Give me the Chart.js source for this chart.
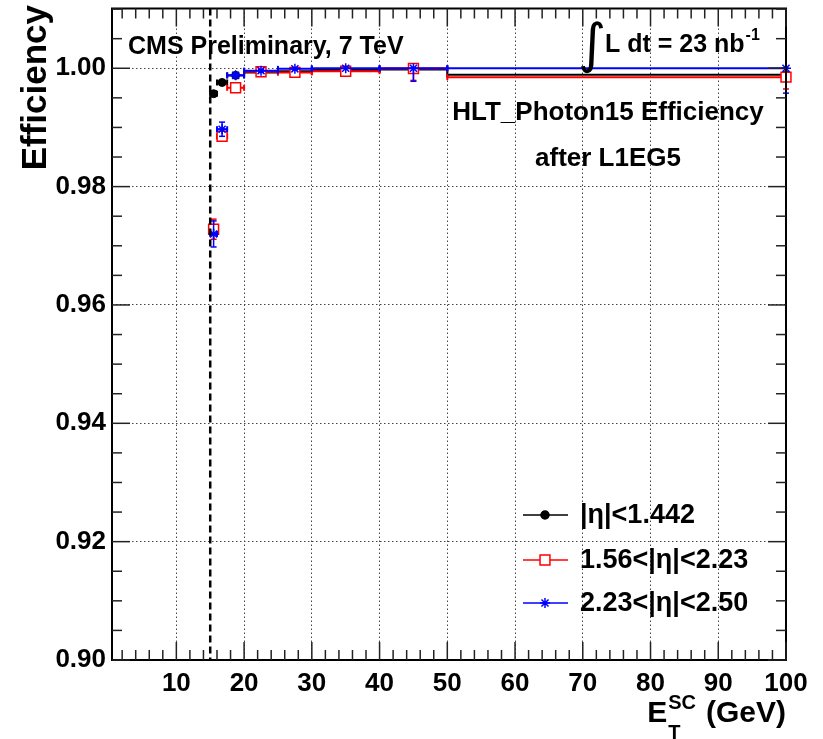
<!DOCTYPE html>
<html>
<head>
<meta charset="utf-8">
<script src="https://cdn.jsdelivr.net/npm/chart.js@4.4.0/dist/chart.umd.min.js"></script>
<style>
  html, body { margin: 0; padding: 0; background: #fff; }
  #wrap { width: 823px; height: 739px; }
</style>
</head>
<body>
<div id="wrap"><canvas id="c" width="823" height="739"></canvas></div>
<script>
// bins in E_T^SC (GeV)
var binCenter = [15.5, 16.75, 18.75, 22.5, 27.5, 35, 45, 100];
var binLow = [15, 16, 17.5, 20, 25, 30, 40, 50];
var binHigh = [16, 17.5, 20, 25, 30, 40, 50, 150];

// |eta| < 1.442
var effBarrel = [0.9957, 0.9976, 0.9988, 0.9993, 0.9995, 0.9997, 0.9998, 0.9989];
var errLoBarrel = [0.0003, 0.0003, 0.0002, 0.0002, 0.0002, 0.0001, 0.0001, 0.0003];
var errHiBarrel = [0.0003, 0.0003, 0.0002, 0.0002, 0.0002, 0.0001, 0.0001, 0.0003];

// 1.56 < |eta| < 2.23
var effEndcap1 = [0.9728, 0.9885, 0.9967, 0.9994, 0.9993, 0.9995, 0.99995, 0.9985];
var errLoEndcap1 = [0.0017, 0.0008, 0.0003, 0.0002, 0.0003, 0.0002, 0.0020, 0.0020];
var errHiEndcap1 = [0.0017, 0.0008, 0.0003, 0.0002, 0.0002, 0.00005, 0.00005, 0.0008];

// 2.23 < |eta| < 2.50
var effEndcap2 = [0.9720, 0.9897, 0.9988, 0.9996, 0.9999, 1.0000, 1.0000, 1.0000];
var errLoEndcap2 = [0.0022, 0.0012, 0.0004, 0.0003, 0.0002, 0.0001, 0.0022, 0.0042];
var errHiEndcap2 = [0.0022, 0.0012, 0.0004, 0.0002, 0.0001, 0, 0, 0];

var seriesLabels = ['|\u03b7|<1.442', '1.56<|\u03b7|<2.23', '2.23<|\u03b7|<2.50'];
var xTicks = [10, 20, 30, 40, 50, 60, 70, 80, 90, 100];
var yTicks = [0.90, 0.92, 0.94, 0.96, 0.98, 1.00];
var thresholdX = 15;

var FONT = "'Liberation Sans', Arial, Helvetica, sans-serif";

function buildPoints(eff, errLo, errHi) {
  var pts = [];
  for (var i = 0; i < binCenter.length; i++) {
    pts.push({x: binCenter[i], y: eff[i], xMin: binLow[i], xMax: binHigh[i], errLow: errLo[i], errHigh: errHi[i]});
  }
  return pts;
}

function line(ctx, x1, y1, x2, y2) {
  ctx.beginPath();
  ctx.moveTo(x1, y1);
  ctx.lineTo(x2, y2);
  ctx.stroke();
}

// error bars drawn just before each dataset's markers
var errorBarPlugin = {
  id: 'errorBars',
  beforeDatasetDraw: function (chart, args) {
    var ds = chart.data.datasets[args.index];
    var xs = chart.scales.x, ys = chart.scales.y;
    var area = chart.chartArea;
    var ctx = chart.ctx;
    var cap = 3;
    ctx.save();
    ctx.strokeStyle = ds.borderColor;
    ctx.lineWidth = 2;
    for (var i = 0; i < ds.data.length; i++) {
      var p = ds.data[i];
      var px = xs.getPixelForValue(p.x);
      var py = ys.getPixelForValue(p.y);
      var x1 = xs.getPixelForValue(p.xMin);
      var x2raw = xs.getPixelForValue(p.xMax);
      var x2 = Math.min(x2raw, area.right);
      line(ctx, x1, py, x2, py);
      line(ctx, x1, py - cap, x1, py + cap);
      if (x2raw <= area.right) line(ctx, x2, py - cap, x2, py + cap);
      var yLo = ys.getPixelForValue(p.y - p.errLow);
      var yHi = ys.getPixelForValue(p.y + p.errHigh);
      if (yLo - yHi > 1) {
        ctx.lineWidth = 1.5;
        line(ctx, px, yHi, px, yLo);
        line(ctx, px - cap, yLo, px + cap, yLo);
        line(ctx, px - cap, yHi, px + cap, yHi);
        ctx.lineWidth = 2;
      }
    }
    ctx.restore();
  }
};

// frame, inner ticks, threshold line, texts and legend
var decorPlugin = {
  id: 'decor',
  afterDraw: function (chart) {
    var ctx = chart.ctx;
    var a = chart.chartArea;
    var xs = chart.scales.x, ys = chart.scales.y;
    var v, p, len;
    ctx.save();

    // threshold line
    var tx = xs.getPixelForValue(thresholdX);
    ctx.strokeStyle = '#000';
    ctx.lineWidth = 2.5;
    ctx.setLineDash([7, 4]);
    line(ctx, tx, a.top, tx, a.bottom);
    ctx.setLineDash([]);

    // frame
    ctx.lineWidth = 2;
    ctx.strokeRect(a.left, a.top, a.right - a.left, a.bottom - a.top);

    // x ticks (bottom and top)
    ctx.lineWidth = 1.5;
    ctx.strokeStyle = '#222';
    for (v = 2; v <= 100; v += 2) {
      p = xs.getPixelForValue(v);
      len = (v % 10 === 0) ? 18 : 10;
      line(ctx, p, a.bottom, p, a.bottom - len);
      line(ctx, p, a.top, p, a.top + len);
    }
    // y ticks (left and right)
    for (var k = 0; k <= 22; k++) {
      v = 0.90 + k * 0.005;
      if (v > 1.0101) break;
      p = ys.getPixelForValue(v);
      len = (k % 4 === 0) ? 18 : 10;
      line(ctx, a.left, p, a.left + len, p);
      line(ctx, a.right, p, a.right - len, p);
    }

    // texts
    ctx.fillStyle = '#000';
    ctx.textBaseline = 'alphabetic';
    ctx.textAlign = 'left';
    ctx.font = 'bold 25px ' + FONT;
    ctx.fillText('CMS Preliminary, 7 TeV', 128, 54);

    ctx.font = '54px DejaVu Sans';
    ctx.fillText('\u222b', 578, 62);
    ctx.font = 'bold 25px ' + FONT;
    ctx.fillText('L dt = 23 nb', 605, 52);
    var wnb = ctx.measureText('L dt = 23 nb').width;
    ctx.font = 'bold 16px ' + FONT;
    ctx.fillText('-1', 605 + wnb + 1, 40);

    ctx.font = 'bold 26px ' + FONT;
    ctx.textAlign = 'center';
    ctx.fillText('HLT_Photon15 Efficiency', 608, 120);
    ctx.fillText('after L1EG5', 608, 166);

    // y title
    ctx.save();
    ctx.translate(46, 5);
    ctx.rotate(-Math.PI / 2);
    ctx.textAlign = 'right';
    ctx.font = 'bold 35px ' + FONT;
    ctx.fillText('Efficiency', 0, 0);
    ctx.restore();

    // x title E_T^SC (GeV)
    ctx.textAlign = 'left';
    ctx.font = 'bold 30px ' + FONT;
    var wGeV = ctx.measureText('(GeV)').width;
    var xGeV = a.right - wGeV;
    ctx.fillText('(GeV)', xGeV, 722);
    ctx.font = 'bold 20px ' + FONT;
    var wSC = ctx.measureText('SC').width;
    var xSC = xGeV - 10 - wSC;
    ctx.fillText('SC', xSC, 709);
    ctx.fillText('T', xSC, 739);
    ctx.font = 'bold 30px ' + FONT;
    var wE = ctx.measureText('E').width;
    ctx.fillText('E', xSC - wE - 1, 722);

    // legend
    var rows = [515, 560, 603];
    var ds = chart.data.datasets;
    var order = [2, 1, 0];
    for (var r = 0; r < 3; r++) {
      var d = ds[order[r]];
      var y = rows[r];
      ctx.strokeStyle = d.borderColor;
      ctx.lineWidth = 1.5;
      line(ctx, 523, y, 568, y);
      ctx.fillStyle = d.backgroundColor;
      Chart.helpers.drawPoint(ctx, {pointStyle: d.pointStyle, radius: d.pointRadius, rotation: 0, borderWidth: d.borderWidth}, 545, y);
      ctx.fillStyle = '#000';
      ctx.font = 'bold 27px ' + FONT;
      ctx.textBaseline = 'middle';
      ctx.fillText(d.label, 580, y + 1);
    }
    ctx.restore();
  }
};

var tickFont = {family: FONT, size: 26, weight: 'bold'};

var chart = new Chart(document.getElementById('c'), {
  type: 'scatter',
  data: {
    datasets: [
      {
        label: seriesLabels[2],
        data: buildPoints(effEndcap2, errLoEndcap2, errHiEndcap2),
        borderColor: '#0000ff', backgroundColor: '#0000ff',
        pointStyle: 'star', pointRadius: 5, borderWidth: 1.5,
        order: 1, clip: false
      },
      {
        label: seriesLabels[1],
        data: buildPoints(effEndcap1, errLoEndcap1, errHiEndcap1),
        borderColor: '#ff0000', backgroundColor: '#ffffff',
        pointStyle: 'rect', pointRadius: 7, borderWidth: 1.5,
        order: 2, clip: false
      },
      {
        label: seriesLabels[0],
        data: buildPoints(effBarrel, errLoBarrel, errHiBarrel),
        borderColor: '#000000', backgroundColor: '#000000',
        pointStyle: 'circle', pointRadius: 4, borderWidth: 1,
        order: 3, clip: false
      }
    ]
  },
  options: {
    responsive: false,
    animation: false,
    layout: {padding: {top: 7, right: 37, left: 0, bottom: 0}},
    plugins: {legend: {display: false}, tooltip: {enabled: false}},
    scales: {
      x: {
        type: 'linear', min: 0.5, max: 100,
        afterBuildTicks: function (s) { s.ticks = xTicks.map(function (v) { return {value: v}; }); },
        afterFit: function (s) { s.height = 79; s.paddingLeft = 0; s.paddingRight = 0; },
        grid: {color: '#444', lineWidth: 1, drawTicks: false},
        border: {display: false, dash: [1.5, 2.5]},
        ticks: {font: tickFont, color: '#000', padding: 8, maxRotation: 0, autoSkip: false,
          callback: function (v) { return String(v); }}
      },
      y: {
        type: 'linear', min: 0.9, max: 1.0101,
        afterBuildTicks: function (s) { s.ticks = yTicks.map(function (v) { return {value: v}; }); },
        afterFit: function (s) { s.width = 112; s.paddingTop = 0; s.paddingBottom = 0; },
        grid: {color: '#444', lineWidth: 1, drawTicks: false},
        border: {display: false, dash: [1.5, 2.5]},
        ticks: {font: tickFont, color: '#000', padding: 6, autoSkip: false,
          callback: function (v) { return v.toFixed(2); }}
      }
    }
  },
  plugins: [errorBarPlugin, decorPlugin]
});
</script>
</body>
</html>
